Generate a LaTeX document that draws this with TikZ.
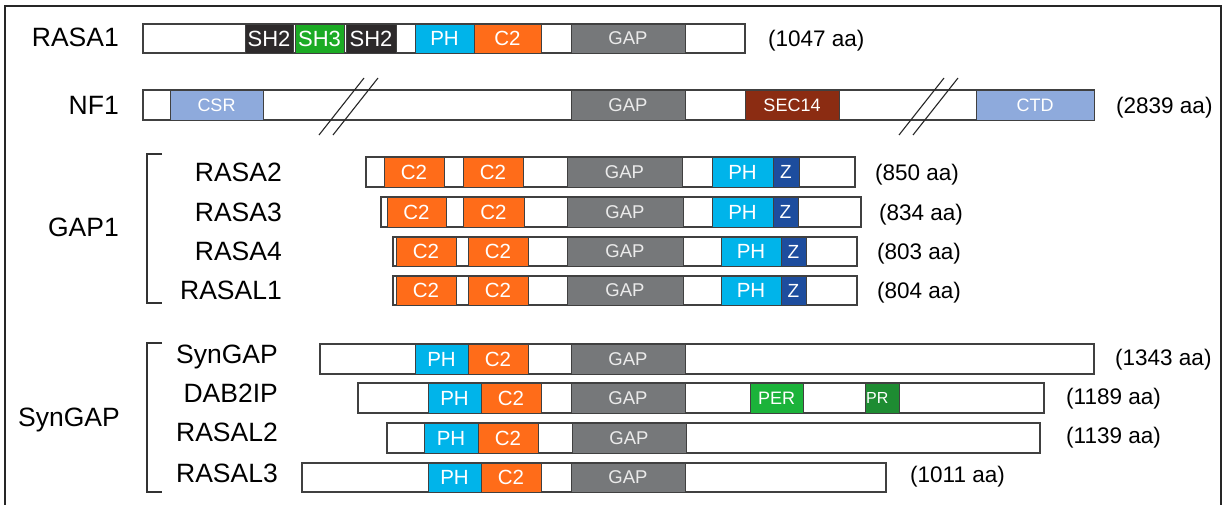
\documentclass[tikz,border=0pt]{standalone}
\usepackage{fontspec}
\setmainfont{Liberation Sans}
\definecolor{cSH}{HTML}{2D2A2B}
\definecolor{cSHiii}{HTML}{1BAB24}
\definecolor{cPH}{HTML}{00B4EA}
\definecolor{cCii}{HTML}{FF6C19}
\definecolor{cGAP}{HTML}{76787A}
\definecolor{cSEC}{HTML}{8B2C12}
\definecolor{cCSR}{HTML}{8EAADC}
\definecolor{cZ}{HTML}{1D4D9E}
\definecolor{cPER}{HTML}{1BB33A}
\definecolor{cPR}{HTML}{1E8C32}
\definecolor{cLine}{HTML}{404040}
\tikzset{
  barbox/.style={draw=cLine,line width=1.1pt,fill=white,inner sep=0pt,outer sep=0pt},
  dombox/.style={draw=cLine,line width=0.9pt,inner sep=0pt,outer sep=0pt,text=white,font=\fontsize{20.5}{20.5}\selectfont},
  sh/.style={fill=cSH,font=\fontsize{22}{22}\selectfont},
  shiii/.style={fill=cSHiii,font=\fontsize{22}{22}\selectfont},
  ph/.style={fill=cPH},
  cii/.style={fill=cCii},
  gap/.style={fill=cGAP,text=white!92!black,font=\fontsize{18.5}{18.5}\selectfont},
  sec/.style={fill=cSEC,font=\fontsize{18}{18}\selectfont},
  csr/.style={fill=cCSR,font=\fontsize{18}{18}\selectfont},
  zz/.style={fill=cZ,font=\fontsize{19}{19}\selectfont},
  per/.style={fill=cPER,font=\fontsize{18}{18}\selectfont},
  prr/.style={fill=cPR},
  pname/.style={inner sep=0pt,text height=18.6pt,text depth=0pt,font=\fontsize{26.5}{26.5}\selectfont,anchor=east},
  aalab/.style={inner sep=0pt,text height=16pt,text depth=0pt,font=\fontsize{22.5}{22.5}\selectfont,anchor=west},
  brk/.style={draw=black!85,line width=1.1pt},
  brace/.style={draw=black!80,line width=1.2pt}
}
% name, x1, x2, y1, y2, style, text
\newcommand\dm[7]{\node[dombox,#6,minimum width={(#3)-(#2)},minimum height={(#5)-(#4)}] (#1) at ({((#2)+(#3))/2},{((#4)+(#5))/2}) {#7};}
\newcommand\pb[5]{\node[barbox,minimum width={(#3)-(#2)},minimum height={(#5)-(#4)}] (#1) at ({((#2)+(#3))/2},{((#4)+(#5))/2}) {};}
\begin{document}
\begin{tikzpicture}[x=1pt,y=-1pt]
\useasboundingbox (0,0) rectangle (1225,504);
\draw[line width=2pt,black!85] (5,510) -- (5,6) -- (1221,6) -- (1221,510);

% RASA1
\def\ya{24}\def\yb{53}
\node[pname] (n-rasa1) at (119,37) {RASA1};
\pb{rasa1}{143}{745}{\ya}{\yb}
\dm{rasa1-sh2a}{245}{293}{\ya}{\yb}{sh}{SH2}
\dm{rasa1-sh3}{295}{344}{\ya}{\yb}{shiii}{SH3}
\dm{rasa1-sh2b}{346}{396}{\ya}{\yb}{sh}{SH2}
\dm{rasa1-ph}{415}{474}{\ya}{\yb}{ph}{PH}
\dm{rasa1-c2}{474}{541}{\ya}{\yb}{cii}{C2}
\dm{rasa1-gap}{571}{685}{\ya}{\yb}{gap}{GAP}
\node[aalab] (a-rasa1) at (768,38) {(1047 aa)};

% NF1
\def\ya{90}\def\yb{120}
\node[pname] (n-nf1) at (119,105) {NF1};
\pb{nf1}{143}{1094}{\ya}{\yb}
\dm{nf1-csr}{170}{263}{\ya}{\yb}{csr}{CSR}
\dm{nf1-gap}{571}{685}{\ya}{\yb}{gap}{GAP}
\dm{nf1-sec}{745}{839}{\ya}{\yb}{sec}{SEC14}
\dm{nf1-ctd}{976}{1094}{\ya}{\yb}{csr}{CTD}
\node[aalab] (a-nf1) at (1116,105) {(2839 aa)};
\coordinate (b1a) at (364,78); \coordinate (b1b) at (319,135);
\coordinate (b2a) at (378,78); \coordinate (b2b) at (333,135);
\coordinate (b3a) at (944,78); \coordinate (b3b) at (899,135);
\coordinate (b4a) at (958,78); \coordinate (b4b) at (913,135);
\draw[brk] (b1a) -- (b1b); \draw[brk] (b2a) -- (b2b);
\draw[brk] (b3a) -- (b3b); \draw[brk] (b4a) -- (b4b);

% GAP1 group
\node[pname] (g-gap1) at (119,227) {GAP1};
\coordinate (gb1) at (162,154); \coordinate (gb2) at (147,154);
\coordinate (gb3) at (147,303); \coordinate (gb4) at (162,303);
\draw[brace] (gb1) -- (gb2) -- (gb3) -- (gb4);

% RASA2
\def\ya{157}\def\yb{187}
\node[pname] (n-rasa2) at (282,172) {RASA2};
\pb{rasa2}{366}{855}{\ya}{\yb}
\dm{rasa2-c2a}{384}{444}{\ya}{\yb}{cii}{C2}
\dm{rasa2-c2b}{463}{523}{\ya}{\yb}{cii}{C2}
\dm{rasa2-gap}{567}{682}{\ya}{\yb}{gap}{GAP}
\dm{rasa2-ph}{712}{773}{\ya}{\yb}{ph}{PH}
\dm{rasa2-z}{773}{799}{\ya}{\yb}{zz}{Z}
\node[aalab] (a-rasa2) at (875,172) {(850 aa)};

% RASA3
\def\ya{197}\def\yb{227}
\node[pname] (n-rasa3) at (282,212) {RASA3};
\pb{rasa3}{381}{861}{\ya}{\yb}
\dm{rasa3-c2a}{387}{446}{\ya}{\yb}{cii}{C2}
\dm{rasa3-c2b}{463}{524}{\ya}{\yb}{cii}{C2}
\dm{rasa3-gap}{567}{683}{\ya}{\yb}{gap}{GAP}
\dm{rasa3-ph}{712}{773}{\ya}{\yb}{ph}{PH}
\dm{rasa3-z}{773}{798}{\ya}{\yb}{zz}{Z}
\node[aalab] (a-rasa3) at (879,212) {(834 aa)};

% RASA4
\def\ya{237}\def\yb{266}
\node[pname] (n-rasa4) at (282,251) {RASA4};
\pb{rasa4}{393}{857}{\ya}{\yb}
\dm{rasa4-c2a}{396}{456}{\ya}{\yb}{cii}{C2}
\dm{rasa4-c2b}{468}{528}{\ya}{\yb}{cii}{C2}
\dm{rasa4-gap}{567}{683}{\ya}{\yb}{gap}{GAP}
\dm{rasa4-ph}{721}{781}{\ya}{\yb}{ph}{PH}
\dm{rasa4-z}{781}{806}{\ya}{\yb}{zz}{Z}
\node[aalab] (a-rasa4) at (877,251) {(803 aa)};

% RASAL1
\def\ya{276}\def\yb{305}
\node[pname] (n-rasal1) at (282,290) {RASAL1};
\pb{rasal1}{393}{857}{\ya}{\yb}
\dm{rasal1-c2a}{396}{456}{\ya}{\yb}{cii}{C2}
\dm{rasal1-c2b}{468}{528}{\ya}{\yb}{cii}{C2}
\dm{rasal1-gap}{567}{683}{\ya}{\yb}{gap}{GAP}
\dm{rasal1-ph}{721}{781}{\ya}{\yb}{ph}{PH}
\dm{rasal1-z}{781}{806}{\ya}{\yb}{zz}{Z}
\node[aalab] (a-rasal1) at (877,290) {(804 aa)};

% SynGAP group
\node[pname] (g-syngap) at (120,417) {SynGAP};
\coordinate (sb1) at (162,343); \coordinate (sb2) at (147,343);
\coordinate (sb3) at (147,492); \coordinate (sb4) at (162,492);
\draw[brace] (sb1) -- (sb2) -- (sb3) -- (sb4);

% SynGAP
\def\ya{344}\def\yb{374}
\node[pname] (n-syngap) at (278,354) {SynGAP};
\pb{syngap}{320}{1094}{\ya}{\yb}
\dm{syngap-ph}{415}{468}{\ya}{\yb}{ph}{PH}
\dm{syngap-c2}{468}{528}{\ya}{\yb}{cii}{C2}
\dm{syngap-gap}{571}{685}{\ya}{\yb}{gap}{GAP}
\node[aalab] (a-syngap) at (1115,357) {(1343 aa)};

% DAB2IP
\def\ya{383}\def\yb{413}
\node[pname] (n-dab2ip) at (278,393) {DAB2IP};
\pb{dab2ip}{358}{1044}{\ya}{\yb}
\dm{dab2ip-ph}{428}{481}{\ya}{\yb}{ph}{PH}
\dm{dab2ip-c2}{481}{541}{\ya}{\yb}{cii}{C2}
\dm{dab2ip-gap}{571}{685}{\ya}{\yb}{gap}{GAP}
\dm{dab2ip-per}{750}{803}{\ya}{\yb}{per}{PER}
\dm{dab2ip-pr}{865}{899}{\ya}{\yb}{prr}{}
\node[anchor=west,inner sep=0pt,text=white,font=\fontsize{16}{16}\selectfont] (dab2ip-prl) at (866,398) {PR};
\node[aalab] (a-dab2ip) at (1066,396) {(1189 aa)};

% RASAL2
\def\ya{423}\def\yb{453}
\node[pname] (n-rasal2) at (278,432) {RASAL2};
\pb{rasal2}{387}{1040}{\ya}{\yb}
\dm{rasal2-ph}{424}{478}{\ya}{\yb}{ph}{PH}
\dm{rasal2-c2}{478}{538}{\ya}{\yb}{cii}{C2}
\dm{rasal2-gap}{572}{686}{\ya}{\yb}{gap}{GAP}
\node[aalab] (a-rasal2) at (1066,435) {(1139 aa)};

% RASAL3
\def\ya{463}\def\yb{492}
\node[pname] (n-rasal3) at (278,473) {RASAL3};
\pb{rasal3}{302}{886}{\ya}{\yb}
\dm{rasal3-ph}{428}{481}{\ya}{\yb}{ph}{PH}
\dm{rasal3-c2}{481}{541}{\ya}{\yb}{cii}{C2}
\dm{rasal3-gap}{571}{685}{\ya}{\yb}{gap}{GAP}
\node[aalab] (a-rasal3) at (910,474) {(1011 aa)};
\end{tikzpicture}
\end{document}
